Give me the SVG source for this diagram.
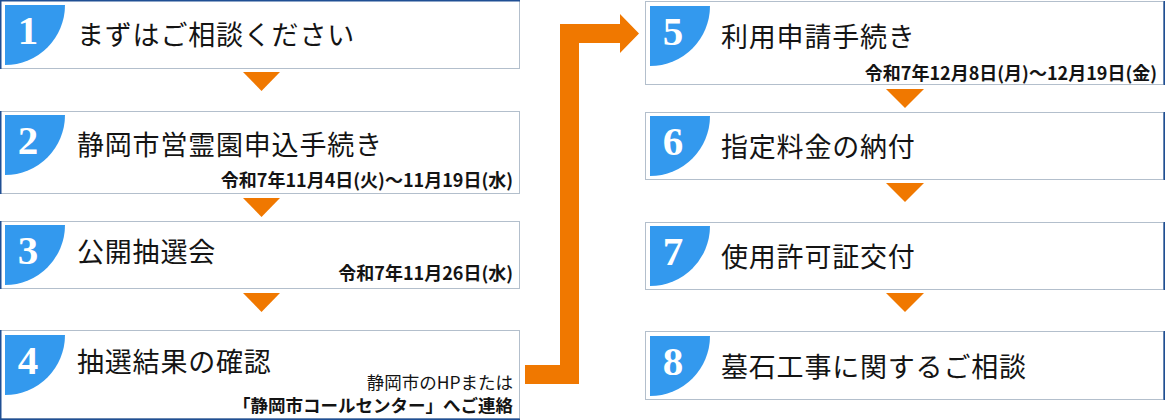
<svg xmlns="http://www.w3.org/2000/svg" width="1165" height="420" viewBox="0 0 1165 420">
<style>
.box{fill:#fff;stroke:#b3bfcc;stroke-width:1}
.edge{stroke:#1f4f94;stroke-width:1.5}
.badge{fill:#3399ee}
.num{font-family:'Liberation Serif','Times New Roman','DejaVu Serif',serif;font-size:41px;font-weight:bold;fill:#fff;text-anchor:middle}
.title{font-family:'Noto Sans CJK JP','Noto Sans',sans-serif;font-size:27px;letter-spacing:0.8px;fill:#141414}
.date{font-family:'Noto Sans CJK JP','Noto Sans',sans-serif;font-size:18px;font-weight:bold;fill:#141414;text-anchor:end}
.note{font-family:'Noto Sans CJK JP','Noto Sans',sans-serif;font-size:17.5px;fill:#141414;text-anchor:end}
.small{font-size:17.5px}
.tri{fill:#f07800}
</style>
<g id="connectors">
<polygon class="tri" points="243,72 280,72 261.5,91"/>
<polygon class="tri" points="243,198 280,198 261.5,217"/>
<polygon class="tri" points="243,293 280,293 261.5,312"/>
<polygon class="tri" points="886,89 924,89 905,108"/>
<polygon class="tri" points="886,183 924,183 905,202"/>
<polygon class="tri" points="886,293 924,293 905,312"/>
<polygon class="tri" points="525,365 560,365 560,24 620,24 620,14 639,33.5 620,53 620,43 579,43 579,384 525,384"/>
</g>
<g id="node1">
<rect class="box" x="0.5" y="0.5" width="519" height="68"/>
<line class="edge" x1="0" y1="0.75" x2="520" y2="0.75"/>
<line class="edge" x1="0.75" y1="0" x2="0.75" y2="69"/>
<path class="badge" d="M5,5 H65 A60,60 0 0 1 5,65 Z"/>
<text class="num" x="28" y="44">1</text>
<text class="title" x="77" y="45">まずはご相談ください</text>
</g>
<g id="node2">
<rect class="box" x="0.5" y="111.5" width="519" height="82"/>
<line class="edge" x1="0.75" y1="111" x2="0.75" y2="194"/>
<path class="badge" d="M5,115 H65 A60,60 0 0 1 5,175 Z"/>
<text class="num" x="28" y="154">2</text>
<text class="title" x="77" y="155">静岡市営霊園申込手続き</text>
<text class="date" x="513" y="187">令和7年11月4日(火)〜11月19日(水)</text>
</g>
<g id="node3">
<rect class="box" x="0.5" y="221.5" width="519" height="67"/>
<line class="edge" x1="0.75" y1="221" x2="0.75" y2="289"/>
<path class="badge" d="M5,225 H65 A60,60 0 0 1 5,285 Z"/>
<text class="num" x="28" y="264">3</text>
<text class="title" x="77" y="262">公開抽選会</text>
<text class="date" x="513" y="280">令和7年11月26日(水)</text>
</g>
<g id="node4">
<rect class="box" x="0.5" y="330.5" width="519" height="88"/>
<line class="edge" x1="0.75" y1="330" x2="0.75" y2="420"/>
<line class="edge" x1="0" y1="419.25" x2="520" y2="419.25"/>
<path class="badge" d="M5,335 H65 A60,60 0 0 1 5,395 Z"/>
<text class="num" x="28" y="374">4</text>
<text class="title" x="77" y="372">抽選結果の確認</text>
<text class="note" x="513" y="389">静岡市のHPまたは</text>
<text class="date small" x="513" y="412">「静岡市コールセンター」へご連絡</text>
</g>
<g id="node5">
<rect class="box" x="645.5" y="1.5" width="518" height="83"/>
<line class="edge" x1="1164.25" y1="1" x2="1164.25" y2="85"/>
<path class="badge" d="M650,6 H710 A60,60 0 0 1 650,66 Z"/>
<text class="num" x="673" y="45">5</text>
<text class="title" x="721" y="47">利用申請手続き</text>
<text class="date" x="1157" y="80">令和7年12月8日(月)〜12月19日(金)</text>
</g>
<g id="node6">
<rect class="box" x="645.5" y="112.5" width="518" height="67"/>
<line class="edge" x1="1164.25" y1="112" x2="1164.25" y2="180"/>
<path class="badge" d="M650,116 H710 A60,60 0 0 1 650,176 Z"/>
<text class="num" x="673" y="155">6</text>
<text class="title" x="721" y="157">指定料金の納付</text>
</g>
<g id="node7">
<rect class="box" x="645.5" y="222.5" width="518" height="67"/>
<line class="edge" x1="1164.25" y1="222" x2="1164.25" y2="290"/>
<path class="badge" d="M650,226 H710 A60,60 0 0 1 650,286 Z"/>
<text class="num" x="673" y="265">7</text>
<text class="title" x="721" y="267">使用許可証交付</text>
</g>
<g id="node8">
<rect class="box" x="645.5" y="331.5" width="518" height="68"/>
<line class="edge" x1="1164.25" y1="331" x2="1164.25" y2="400"/>
<path class="badge" d="M650,336 H710 A60,60 0 0 1 650,396 Z"/>
<text class="num" x="673" y="375">8</text>
<text class="title" x="721" y="377">墓石工事に関するご相談</text>
</g>
</svg>
